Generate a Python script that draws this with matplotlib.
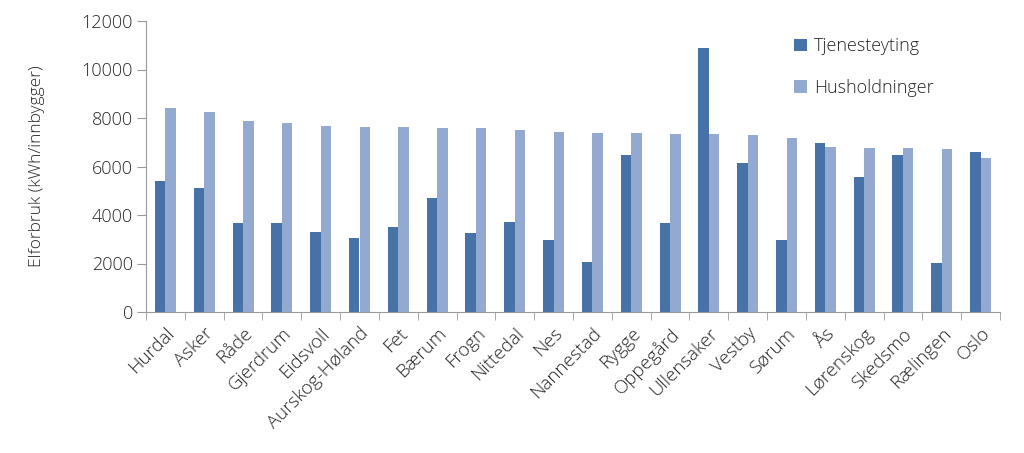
import matplotlib.pyplot as plt
import numpy as np

kommuner = ['Hurdal', 'Asker', 'Råde', 'Gjerdrum', 'Eidsvoll', 'Aurskog-Høland',
            'Fet', 'Bærum', 'Frogn', 'Nittedal', 'Nes', 'Nannestad', 'Rygge',
            'Oppegård', 'Ullensaker', 'Vestby', 'Sørum', 'Ås', 'Lørenskog',
            'Skedsmo', 'Rælingen', 'Oslo']
tjenesteyting = [5400, 5100, 3670, 3670, 3300, 3050, 3490, 4700, 3270, 3710,
                 2980, 2060, 6460, 3670, 10890, 6160, 2970, 6970, 5570, 6460,
                 2020, 6600]
husholdninger = [8400, 8250, 7880, 7810, 7670, 7630, 7630, 7590, 7590, 7500,
                 7440, 7400, 7400, 7340, 7340, 7300, 7190, 6820, 6780, 6750,
                 6710, 6350]

plt.rcParams['font.family'] = ['Open Sans', 'DejaVu Sans']
plt.rcParams['font.weight'] = 'light'
plt.rcParams['axes.labelweight'] = 'light'
txt = '#262626'
grey = '#9a9a9a'

fig = plt.figure(figsize=(10.24, 4.53), dpi=100)
ax = fig.add_axes([146/1024, 1-312/453, (1000-146)/1024, (312-21)/453])

x = np.arange(len(kommuner))
w = 0.27
ax.bar(x - w/2, tjenesteyting, w, color='#4672A8', label='Tjenesteyting')
ax.bar(x + w/2, husholdninger, w, color='#93A9CF', label='Husholdninger')

ax.set_xlim(-0.5, len(kommuner) - 0.5)
ax.set_ylim(0, 12000)
ax.set_yticks(range(0, 12001, 2000))
ax.tick_params(axis='y', labelsize=13, colors=grey, labelcolor=txt, length=6.5, pad=3)

ax.set_xticks(x)
ax.set_xticklabels(kommuner, rotation=45, ha='right', rotation_mode='anchor',
                   fontsize=13.5, color=txt)
ax.tick_params(axis='x', length=0, pad=9)
ax.set_xticks(np.arange(-0.5, len(kommuner)), minor=True)
ax.tick_params(axis='x', which='minor', length=6, color=grey)

for s in ['top', 'right']:
    ax.spines[s].set_visible(False)
for s in ['left', 'bottom']:
    ax.spines[s].set_color(grey)

ax.set_ylabel('Elforbruk (kWh/innbygger)', fontsize=12.5, color=txt, labelpad=26)

ax.legend(loc='upper left', bbox_to_anchor=(0.74, 1.0), frameon=False,
          fontsize=13, labelcolor=txt, handlelength=0.7, handleheight=0.7,
          handletextpad=0.4, labelspacing=1.3)

fig.savefig('out.png', dpi=100)
